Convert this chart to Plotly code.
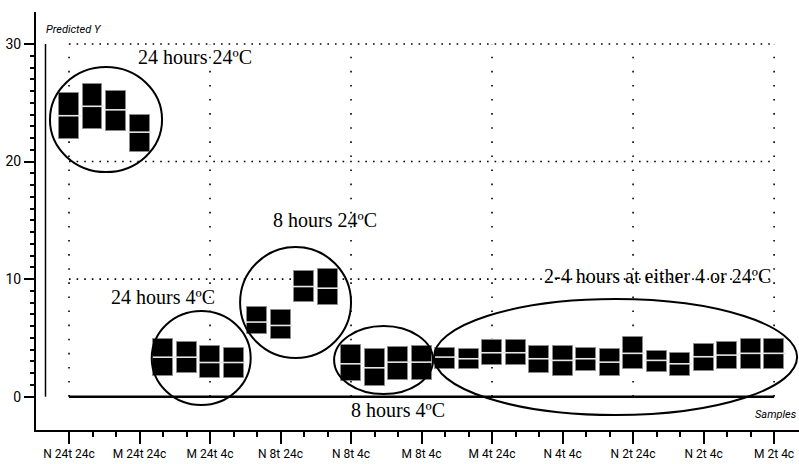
import plotly.graph_objects as go

# ---- data ----
sample_index = list(range(31))
tick_positions = [0, 3, 6, 9, 12, 15, 18, 21, 24, 27, 30]
tick_labels = ["N 24t 24c", "M 24t 24c", "M 24t 4c", "N 8t 24c", "N 8t 4c", "M 8t 4c",
               "M 4t 24c", "N 4t 4c", "N 2t 24c", "N 2t 4c", "M 2t 4c"]
box_top = [25.8, 26.6, 26.0, 24.0,
           4.93, 4.63, 4.29, 4.14,
           7.66, 7.34, 10.71, 10.86,
           4.37, 4.03, 4.23, 4.31,
           4.17, 4.03, 4.80, 4.80, 4.31, 4.31, 4.17, 4.03, 5.08, 3.88, 3.74, 4.51, 4.65, 4.94, 4.94]
box_bottom = [21.9, 22.8, 22.6, 20.8,
              1.74, 2.06, 1.57, 1.57,
              5.30, 4.94, 8.09, 7.77,
              1.31, 0.94, 1.46, 1.46,
              2.37, 2.37, 2.68, 2.68, 2.03, 1.74, 2.23, 1.74, 2.37, 2.08, 1.74, 2.23, 2.37, 2.37, 2.37]
box_median = [23.9, 24.7, 24.4, 22.5,
              3.36, 3.36, 2.91, 2.91,
              6.35, 6.06, 9.37, 9.23,
              2.80, 2.46, 2.94, 2.94,
              3.37, 3.23, 3.74, 3.74, 3.23, 3.09, 3.23, 2.94, 3.69, 3.09, 2.80, 3.40, 3.54, 3.69, 3.69]
y_major = [0, 10, 20, 30]
grid_x = [0, 6, 12, 18, 24, 30]

group_labels = ["24 hours 24ºC", "8 hours 24ºC", "24 hours 4ºC", "8 hours 4ºC",
                "2-4 hours at either 4 or 24ºC"]

fig = go.Figure()

fig.add_trace(go.Bar(
    x=sample_index,
    y=[t - b for t, b in zip(box_top, box_bottom)],
    base=box_bottom,
    width=0.85,
    marker=dict(color="black", line=dict(color="#8a8a8a", width=1)),
    hoverinfo="skip", showlegend=False,
))
fig.add_trace(go.Scatter(
    x=sample_index, y=box_median, mode="markers",
    marker=dict(symbol="line-ew", size=17, line=dict(color="#e6e6e6", width=1.6)),
    hoverinfo="skip", showlegend=False,
))

shapes = []
# dotted grid
for v in y_major[1:]:
    shapes.append(dict(type="line", xref="x", yref="y", x0=0, x1=30, y0=v, y1=v,
                       line=dict(color="black", width=1.6, dash="1.6px,6px"), layer="below"))
for gx in grid_x:
    shapes.append(dict(type="line", xref="x", yref="y", x0=gx, x1=gx, y0=0, y1=30,
                       line=dict(color="black", width=1.6, dash="1.6px,12.5px"), layer="below"))
# zero line and inner vertical axis
shapes.append(dict(type="line", xref="x", yref="y", x0=0, x1=30, y0=0, y1=0,
                   line=dict(color="black", width=2.5)))
shapes.append(dict(type="line", xref="x", yref="y", x0=-1, x1=-1, y0=0, y1=30,
                   line=dict(color="black", width=1.5)))
# group ellipses
ellipses = [(-0.81, 3.96, 19.11, 28.04),
            (3.52, 7.73, -0.71, 7.29),
            (7.28, 12.0, 3.29, 12.73),
            (11.28, 15.49, 0.23, 6.01),
            (15.53, 30.98, -1.56, 8.31)]
for x0, x1, y0, y1 in ellipses:
    shapes.append(dict(type="circle", xref="x", yref="y", x0=x0, x1=x1, y0=y0, y1=y1,
                       line=dict(color="black", width=2)))

serif = dict(family="Liberation Serif, Times New Roman, serif", size=20, color="black")
text_pos = [(5.36, 28.89), (10.89, 15.03), (4.0, 8.44), (14.0, -1.17), (25.02, 10.27)]
annotations = []
for (tx, ty), txt in zip(text_pos, group_labels):
    annotations.append(dict(x=tx, y=ty, xref="x", yref="y", text=txt, showarrow=False,
                            font=serif, xanchor="center", yanchor="middle"))
narrow_it = dict(family="Roboto, Liberation Sans Narrow, sans-serif",
                 size=11, color="black")
annotations.append(dict(x=-1.06, y=31.27, xref="x", yref="y", text="<i>Predicted Y</i>",
                        showarrow=False, font=narrow_it, xanchor="left", yanchor="middle"))
annotations.append(dict(x=1.0, y=-1.47, xref="paper", yref="y", text="<i>Samples</i>",
                        showarrow=False, font=narrow_it, xanchor="right", yanchor="middle"))

tickfont = dict(family="Roboto, Liberation Sans Narrow, sans-serif",
                size=12, color="black")

fig.update_layout(
    width=799, height=464,
    margin=dict(l=36, r=0, t=12, b=34),
    paper_bgcolor="white", plot_bgcolor="white",
    shapes=shapes, annotations=annotations,
    bargap=0,
    xaxis=dict(range=[-1.404, 31.06], showgrid=False, zeroline=False,
               showline=True, linecolor="black", linewidth=2,
               tickmode="array", tickvals=tick_positions, ticktext=tick_labels,
               ticks="outside", ticklen=12, tickwidth=1.5, tickcolor="black",
               tickfont=tickfont,
               minor=dict(tickmode="array", tickvals=sample_index, ticks="outside",
                          ticklen=5, tickwidth=1.5, tickcolor="black", showgrid=False)),
    yaxis=dict(range=[-2.83, 32.72], showgrid=False, zeroline=False,
               showline=True, linecolor="black", linewidth=2,
               tickmode="array", tickvals=y_major, ticktext=[str(v) for v in y_major],
               ticks="outside", ticklen=10, tickwidth=1.5, tickcolor="black",
               tickfont=dict(family=tickfont["family"], size=14, color="black"),
               minor=dict(tickmode="array", tickvals=list(range(0, 31)), ticks="outside",
                          ticklen=4, tickwidth=1.5, tickcolor="black", showgrid=False)),
)

fig.write_html("out.html", config=dict(displayModeBar=False),
               post_script="document.body.style.margin='0';")
